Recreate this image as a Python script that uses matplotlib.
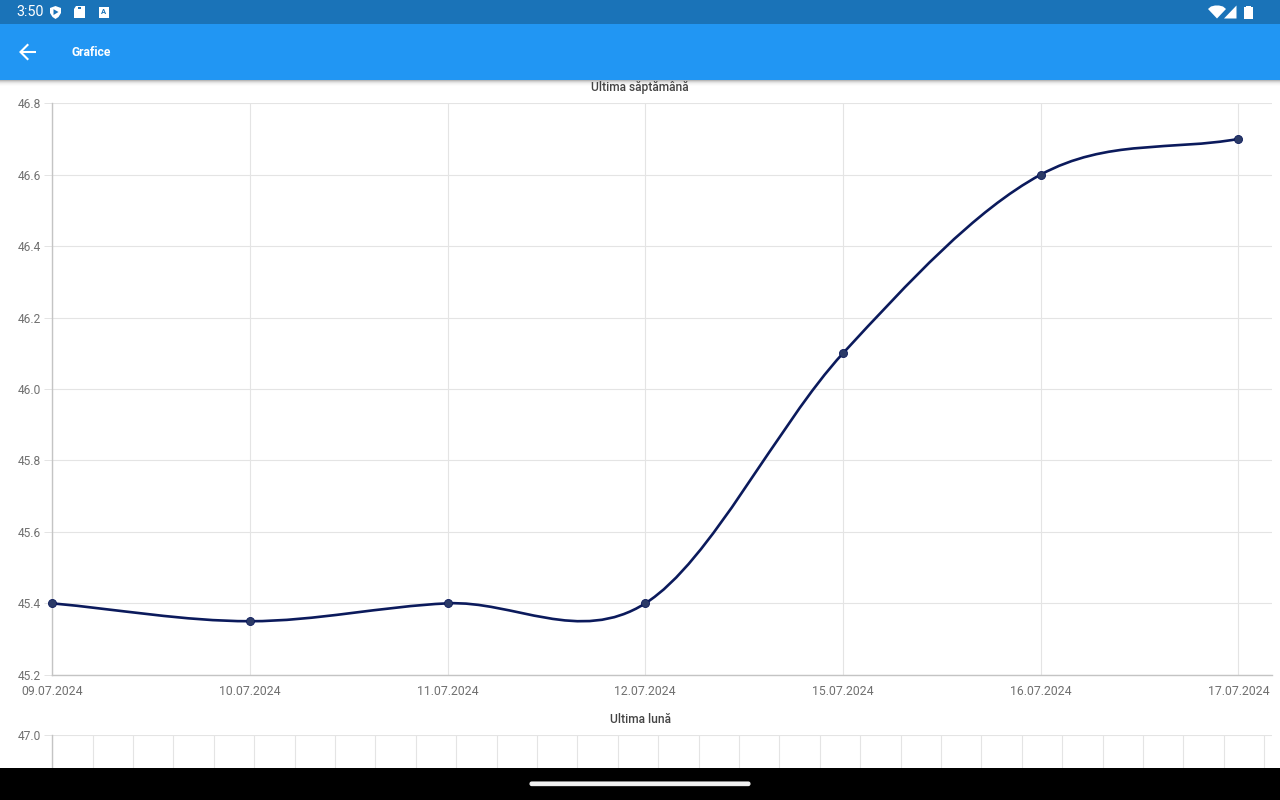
import matplotlib
matplotlib.use('Agg')
import matplotlib.pyplot as plt
from matplotlib.patches import Rectangle, Polygon, PathPatch, FancyBboxPatch
from matplotlib.path import Path

plt.rcParams['font.family'] = ['Roboto', 'DejaVu Sans']

W, H = 1280, 800

dates = ['09.07.2024', '10.07.2024', '11.07.2024', '12.07.2024', '15.07.2024', '16.07.2024', '17.07.2024']
values = [45.4, 45.35, 45.4, 45.4, 46.1, 46.6, 46.7]
y_ticks = [45.2, 45.4, 45.6, 45.8, 46.0, 46.2, 46.4, 46.6, 46.8]
month_top_tick = [47.0]
month_days = 30

LINE = '#0b1a5c'
DOT = '#2b3a67'
GRID = '#e4e4e4'
AXIS = '#c4c4c4'
LABEL = '#707070'
TITLE = '#444444'


def px_axes(left, top, right, bottom, **kw):
    # axes placed by pixel box, y measured from the top of the screen
    return fig.add_axes([left / W, 1 - bottom / H, (right - left) / W, (bottom - top) / H], **kw)


def smooth_path(xs, ys):
    # cubic segments, tangents from the neighbouring points
    n = len(xs)
    slope = []
    for i in range(n):
        a, b = max(i - 1, 0), min(i + 1, n - 1)
        slope.append((ys[b] - ys[a]) / (xs[b] - xs[a]))
    verts = [(xs[0], ys[0])]
    codes = [Path.MOVETO]
    for i in range(n - 1):
        d = (xs[i + 1] - xs[i]) / 3
        verts += [(xs[i] + d, ys[i] + slope[i] * d),
                  (xs[i + 1] - d, ys[i + 1] - slope[i + 1] * d),
                  (xs[i + 1], ys[i + 1])]
        codes += [Path.CURVE4] * 3
    return Path(verts, codes)


def style_axes(ax):
    ax.set_facecolor('none')
    for s in ('top', 'right'):
        ax.spines[s].set_visible(False)
    for s in ('left', 'bottom'):
        ax.spines[s].set_color(AXIS)
        ax.spines[s].set_linewidth(1.0)
    ax.tick_params(axis='y', length=6, width=0.7, color=GRID, labelsize=8.64, labelcolor=LABEL, pad=2)
    ax.tick_params(axis='x', length=0, labelsize=8.8, labelcolor=LABEL, pad=7)
    ax.grid(True, color=GRID, linewidth=0.8)
    ax.set_axisbelow(True)


fig = plt.figure(figsize=(12.8, 8), dpi=100, facecolor='white')

# weekly chart
left = 52.2
step = (1238.4 - left) / 6
ax = px_axes(left, 103.2, 1272, 674.8)
style_axes(ax)
x = list(range(len(values)))
ax.set_xlim(0, (1272 - left) / step)
ax.set_ylim(45.2, 46.8)
ax.set_xticks(x)
ax.set_xticklabels(dates)
ax.set_yticks(y_ticks)
ax.set_yticklabels([f'{v:.1f}' for v in y_ticks])
ax.add_patch(PathPatch(smooth_path(x, values), fill=False, edgecolor=LINE, linewidth=1.9, clip_on=False, zorder=3))
ax.plot(x, values, linestyle='none', marker='o', markersize=5.8, markerfacecolor=DOT,
        markeredgecolor=LINE, markeredgewidth=0.6, clip_on=False, zorder=4)

# monthly chart, cut off by the navigation bar
ax2 = px_axes(left, 735, 1272, 900)
style_axes(ax2)
ax2.set_xlim(0, (1272 - left) / 40.4)
ax2.set_ylim(46.6, 47.0)
ax2.set_xticks(range(month_days + 1))
ax2.set_xticklabels([])
ax2.set_yticks(month_top_tick)
ax2.set_yticklabels([f'{v:.1f}' for v in month_top_tick])

# screen furniture in pixel coordinates
ui = fig.add_axes([0, 0, 1, 1], zorder=10)
ui.set_xlim(0, W)
ui.set_ylim(H, 0)
ui.axis('off')
ui.patch.set_alpha(0)

ui.add_patch(Rectangle((0, 0), W, 24, color='#1a73b8', lw=0))
ui.add_patch(Rectangle((0, 24), W, 56, color='#2196f3', lw=0))
for i, a in enumerate([0.28, 0.18, 0.11, 0.06, 0.03, 0.012]):
    ui.add_patch(Rectangle((0, 80 + i), W, 1, color='black', alpha=a, lw=0))
ui.add_patch(Rectangle((0, 768), W, 32, color='black', lw=0))
ui.add_patch(FancyBboxPatch((530, 782), 220, 3.6, boxstyle='round,pad=0,rounding_size=1.8',
                            mutation_aspect=1, color='#f2f2f2', lw=0.8))

ui.text(16, 12.5, '3:50', color='white', fontsize=10.4, ha='left', va='center')
ui.text(72, 52, 'Grafice', color='white', fontsize=8.7, fontweight='bold', ha='left', va='center')
ui.text(640, 87, 'Ultima săptămână', color=TITLE, fontsize=8.64, fontweight='medium', ha='center', va='center')
ui.text(640, 719.4, 'Ultima lună', color=TITLE, fontsize=8.64, fontweight='medium', ha='center', va='center')

# back arrow
ui.plot([36, 21], [52, 52], color='white', lw=1.5, solid_capstyle='butt')
ui.plot([27.5, 20.5, 27.5], [45, 52, 59], color='white', lw=1.5, solid_joinstyle='miter')

# shield, sd card, keyboard box
ui.add_patch(Polygon([(50, 8), (55.5, 6), (61, 8), (61, 13), (58.5, 17), (55.5, 19), (52.5, 17), (50, 13)],
                     color='white', lw=0))
ui.add_patch(Polygon([(53.5, 9.2), (58.5, 12), (53.5, 15)], color='#1a73b8', lw=0))
ui.add_patch(Polygon([(76, 6), (85, 6), (85, 18), (74, 18), (74, 8.5)], color='white', lw=0))
ui.add_patch(Rectangle((78, 7), 3.4, 2.2, color='#1a73b8', lw=0))
ui.add_patch(Rectangle((98.5, 7), 10, 11, color='white', lw=0))
ui.text(103.6, 12, 'A', color='#1a73b8', fontsize=5.5, fontweight='bold', ha='center', va='center')

# wifi, signal, battery
ui.add_patch(Polygon([(1208, 9), (1211, 6.5), (1215, 5.5), (1219, 5.5), (1223, 6.5), (1226, 9), (1217, 18.5)],
                     color='white', lw=0))
ui.add_patch(Polygon([(1224, 18.5), (1236.5, 5.5), (1236.5, 18.5)], color='white', lw=0))
ui.add_patch(Rectangle((1244, 7), 8.5, 11.5, color='white', lw=0))
ui.add_patch(Rectangle((1246, 5.5), 4.5, 1.6, color='white', lw=0))

fig.savefig('out.png', dpi=100)
